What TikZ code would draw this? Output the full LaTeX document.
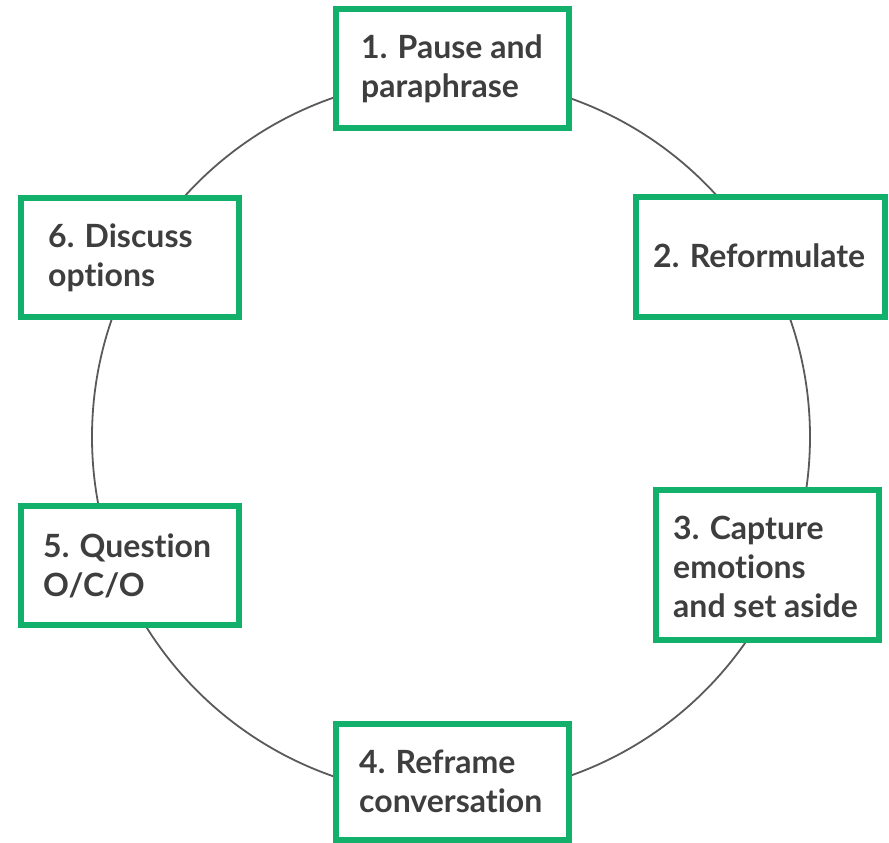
\documentclass[tikz,border=0pt]{standalone}
\usepackage{fontspec}
\setmainfont{Lato}[UprightFont=* Bold,Ligatures=NoCommon]
\definecolor{boxgreen}{HTML}{12B06A}
\definecolor{txtgray}{HTML}{3E3E3E}
\definecolor{ringgray}{HTML}{5A5A5A}
\begin{document}
\begin{tikzpicture}[x=1pt,y=-1pt,
  stepbox/.style={draw=boxgreen,line width=6pt,fill=white,inner sep=0pt},
  steptext/.style={anchor=base west,align=left,inner sep=0pt,text=txtgray,
    font=\fontsize{32}{38.8}\selectfont},
  ring/.style={draw=ringgray,line width=1.8pt}]
\useasboundingbox (0,0) rectangle (889,843);
\fill[white] (0,0) rectangle (889,843);
\draw[ring] (451,437) circle[radius=359];
% boxes
\draw[stepbox] (336,9) rectangle (569,128) coordinate (b1);
\draw[stepbox] (636,197) rectangle (885,317) coordinate (b2);
\draw[stepbox] (656,490) rectangle (879,640) coordinate (b3);
\draw[stepbox] (336,724) rectangle (569,840) coordinate (b4);
\draw[stepbox] (21,506) rectangle (239,625) coordinate (b5);
\draw[stepbox] (21,198) rectangle (239,317) coordinate (b6);
% texts (anchored at the baseline of the last line)
\node[steptext] (t1) at (361,97) {1. Pause and\\paraphrase};
\node[steptext] (t2) at (653,267) {2. Reformulate};
\node[steptext] (t3) at (673,617) {3. Capture\\emotions\\and set aside};
\node[steptext] (t4) at (359,812) {4. Reframe\\conversation};
\node[steptext] (t5) at (43,596) {5. Question\\O/C/O};
\node[steptext] (t6) at (48,286) {6. Discuss\\options};
\end{tikzpicture}
\end{document}
